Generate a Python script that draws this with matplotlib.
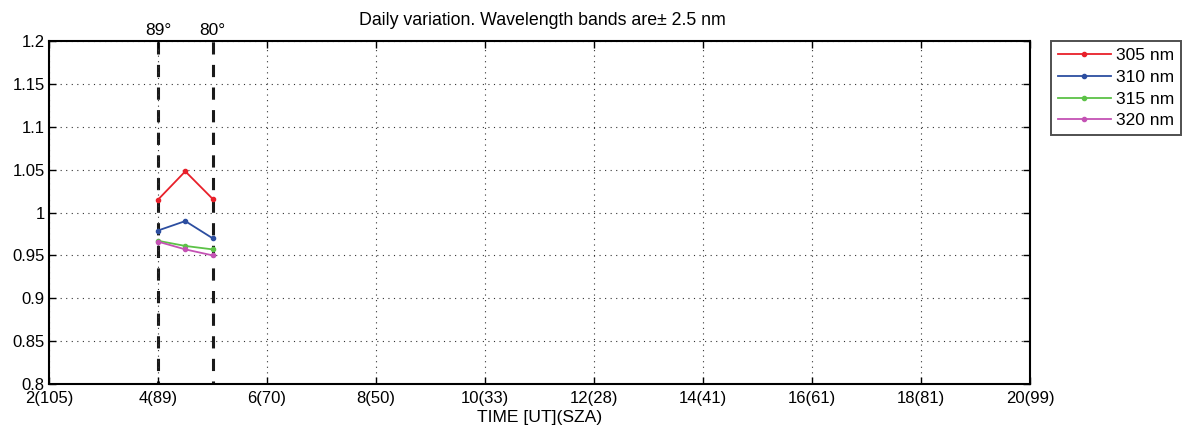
import numpy as np
import matplotlib.pyplot as plt

plt.rcParams['font.family'] = ['Liberation Sans', 'DejaVu Sans']

# Hours (UT) sampled and the normalised ratio for each wavelength band
hours = [4, 4.5, 5]
r305 = [1.015, 1.048, 1.016]
r310 = [0.979, 0.990, 0.970]
r315 = [0.967, 0.961, 0.957]
r320 = [0.966, 0.957, 0.950]

bands = ['305 nm', '310 nm', '315 nm', '320 nm']
colors = ['#e8202a', '#2c4ea0', '#5cc247', '#c452b4']

xticks = [2, 4, 6, 8, 10, 12, 14, 16, 18, 20]
sza = [105, 89, 70, 50, 33, 28, 41, 61, 81, 99]
xlabels = ['%d(%d)' % (t, s) for t, s in zip(xticks, sza)]

# solar zenith angle markers
sza_lines = [4, 5]
sza_text = ['89°', '80°']

fig = plt.figure(figsize=(11.9, 4.32), dpi=100)
ax = fig.add_axes([0.0412, 0.1111, 0.8244, 0.794])

for y, c, lab in zip([r305, r310, r315, r320], colors, bands):
    ax.plot(hours, y, '-', marker='.', color=c, lw=1.3, ms=6, label=lab)

for xv, t in zip(sza_lines, sza_text):
    ax.axvline(xv, color='#1a1a1a', lw=2.2, ls=(3, (4, 3.4)), zorder=1)
    ax.text(xv, 1.203, t, ha='center', va='bottom', fontsize=12.5)

ax.set_xlim(2, 20)
ax.set_ylim(0.8, 1.2)
ax.set_xticks(xticks)
ax.set_xticklabels(xlabels, fontsize=12)
yt = np.arange(0.8, 1.2001, 0.05)
ax.set_yticks(yt)
ax.set_yticklabels(['%g' % round(v, 2) for v in yt], fontsize=12)
ax.tick_params(direction='in', length=5, width=1, pad=3, top=True, right=True)
ax.tick_params(axis='x', pad=5)
ax.grid(True, color='#333333', ls=(0, (1, 4)), lw=0.8)
for s in ax.spines.values():
    s.set_linewidth(1.5)
ax.set_xlabel('TIME [UT](SZA)', fontsize=12.6, labelpad=3)

fig.text(0.456, 0.953, 'Daily variation. Wavelength bands are± 2.5 nm',
         ha='center', va='center', fontsize=12.8)

leg = ax.legend(loc='upper left', bbox_to_anchor=(1.021, 1.0), fontsize=12.5,
                frameon=True, fancybox=False, edgecolor='#222222',
                handlelength=3.05, borderpad=0.4, labelspacing=0.38,
                handletextpad=0.3, borderaxespad=0)
leg.get_frame().set_linewidth(1.4)

fig.savefig('out.png', dpi=100)
